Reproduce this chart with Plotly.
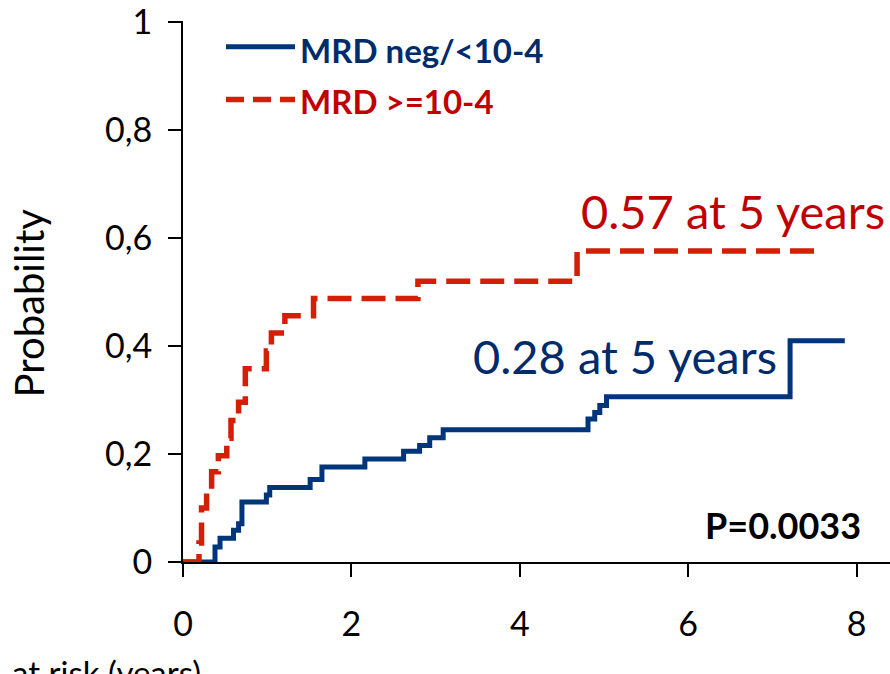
import plotly.graph_objects as go

# ---- data ----
neg_time = [0, 0.38, 0.44, 0.60, 0.66, 0.70, 0.99, 1.03, 1.51, 1.65, 2.16, 2.62, 2.81, 2.93, 3.09,
            4.81, 4.89, 4.95, 5.03, 7.21, 7.86]
neg_prob = [0, 0.028, 0.044, 0.059, 0.071, 0.111, 0.124, 0.138, 0.153, 0.176, 0.191, 0.205, 0.216,
            0.230, 0.245, 0.265, 0.277, 0.290, 0.306, 0.410, 0.410]

pos_time = [0, 0.19, 0.22, 0.28, 0.34, 0.42, 0.52, 0.57, 0.66, 0.74, 0.99, 1.05, 1.21, 1.55, 2.79,
            4.68, 7.57]
pos_prob = [0, 0.035, 0.100, 0.133, 0.167, 0.197, 0.229, 0.262, 0.296, 0.358, 0.391, 0.424, 0.456,
            0.488, 0.520, 0.576, 0.576]

series_names = ["MRD neg/<10-4", "MRD >=10-4"]
x_ticks = [0, 2, 4, 6, 8]
y_ticks = [0, 0.2, 0.4, 0.6, 0.8, 1.0]
y_ticklabels = ["0", "0,2", "0,4", "0,6", "0,8", "1"]

BLUE = "#00357A"
BLUE_TXT = "#002B6B"
RED = "#D41F06"
RED_TXT = "#C00000"
FONT = "Lato"

# plot area in pixels
W, H = 890, 674
L, R, T, B = 183, 0, 18, 112
PW, PH = W - L - R, H - T - B
Y_TOP = 1.002


def px(x):
    return (x - L) / PW


def py(y):
    return (H - B - y) / PH


fig = go.Figure()
fig.add_trace(go.Scatter(x=neg_time, y=neg_prob, mode="lines", line_shape="hv",
                         line=dict(color=BLUE, width=5), name=series_names[0], showlegend=False))
fig.add_trace(go.Scatter(x=pos_time, y=pos_prob, mode="lines", line_shape="hv",
                         line=dict(color=RED, width=5.5, dash="24px,10px"), name=series_names[1],
                         showlegend=False))

# legend (drawn manually to match the reference layout)
fig.add_shape(type="line", xref="paper", yref="paper", x0=px(226), x1=px(295), y0=py(44), y1=py(44),
              line=dict(color=BLUE, width=5))
fig.add_shape(type="line", xref="paper", yref="paper", x0=px(226), x1=px(295), y0=py(97), y1=py(97),
              line=dict(color=RED, width=5.5, dash="18px,9px"))
fig.add_annotation(xref="paper", yref="paper", x=px(298), y=py(47), xanchor="left", yanchor="middle",
                   text="<b>MRD neg/&lt;10-4</b>", showarrow=False,
                   font=dict(family=FONT, size=33, color=BLUE_TXT))
fig.add_annotation(xref="paper", yref="paper", x=px(298), y=py(98), xanchor="left", yanchor="middle",
                   text="<b>MRD &gt;=10-4</b>", showarrow=False,
                   font=dict(family=FONT, size=33, color=RED_TXT))

fig.add_annotation(xref="paper", yref="paper", x=px(887), y=py(209), xanchor="right", yanchor="middle",
                   text="0.57 at 5 years", showarrow=False,
                   font=dict(family=FONT, size=47, color=RED_TXT))
fig.add_annotation(xref="paper", yref="paper", x=px(779), y=py(355), xanchor="right", yanchor="middle",
                   text="0.28 at 5 years", showarrow=False,
                   font=dict(family=FONT, size=47, color=BLUE_TXT))
fig.add_annotation(xref="paper", yref="paper", x=px(863), y=py(525), xanchor="right", yanchor="middle",
                   text="<b>P=0.0033</b>", showarrow=False,
                   font=dict(family=FONT, size=36, color="black"))

fig.add_annotation(xref="paper", yref="paper", x=px(29), y=py(302), xanchor="center", yanchor="middle",
                   text="Probability", textangle=-90, showarrow=False,
                   font=dict(family=FONT, size=40, color="black"))
fig.add_annotation(xref="paper", yref="paper", x=px(10), y=py(650), xanchor="left", yanchor="top",
                   text="at risk (years)", showarrow=False,
                   font=dict(family=FONT, size=33, color="black"))

fig.update_xaxes(range=[0, PW / 84.2], tickvals=x_ticks, ticks="outside", ticklen=13, tickwidth=2,
                 tickcolor="black", showline=True, linecolor="black", linewidth=2, showgrid=False,
                 zeroline=False, tickfont=dict(family=FONT, size=34, color="black"),
                 ticklabelstandoff=18, ticklabeloverflow="allow")
fig.update_yaxes(range=[0, Y_TOP], tickvals=y_ticks, ticktext=y_ticklabels,
                 ticks="outside", ticklen=13, ticklabelstandoff=9, ticklabeloverflow="allow",
                 tickwidth=2, tickcolor="black", showline=True, linecolor="black", linewidth=2,
                 showgrid=False, zeroline=False, tickfont=dict(family=FONT, size=34, color="black"))
fig.update_layout(width=W, height=H, margin=dict(l=L, r=R, t=T, b=B, pad=0),
                  paper_bgcolor="white", plot_bgcolor="white", showlegend=False)

fig.write_html("out.html")
